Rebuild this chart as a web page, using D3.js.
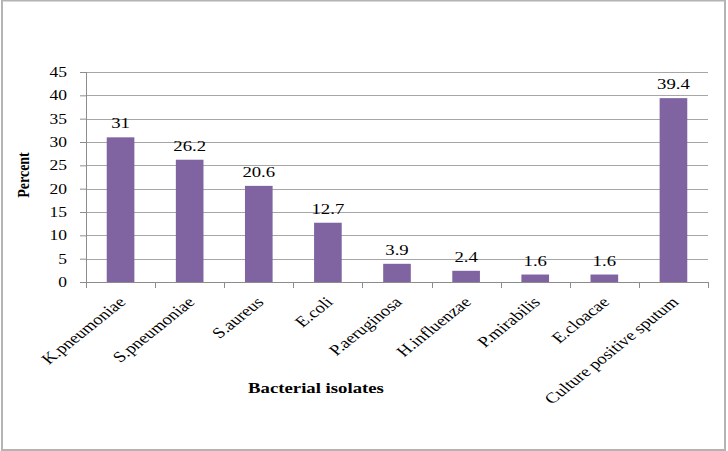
<!DOCTYPE html>
<html>
<head>
<meta charset="utf-8">
<script src="https://cdn.jsdelivr.net/npm/d3@7"></script>
<style>
  body { margin: 0; background: #fff; }
  svg text { font-family: "Liberation Serif", "DejaVu Serif", serif !important; fill: #000; }
</style>
</head>
<body>
<div id="chart"></div>
<script>
var categories = ["K.pneumoniae", "S.pneumoniae", "S.aureus", "E.coli", "P.aeruginosa",
                  "H.influenzae", "P.mirabilis", "E.cloacae", "Culture positive sputum"];
var percents = [31, 26.2, 20.6, 12.7, 3.9, 2.4, 1.6, 1.6, 39.4];
var yTicks = [0, 5, 10, 15, 20, 25, 30, 35, 40, 45];

var W = 728, H = 451;
var sx = 1.25;   // the picture is a bit wider than tall, text looks stretched
var margin = {top: 72, left: 86},
    width = 708 - margin.left,
    height = 282 - margin.top;

var root = d3.select("#chart").append("svg")
    .attr("width", W)
    .attr("height", H);

// outer frame
root.append("rect")
    .attr("x", 2).attr("y", 0.5)
    .attr("width", W - 5).attr("height", H - 1.5)
    .attr("fill", "none")
    .attr("stroke", "#b4b4b4")
    .attr("stroke-width", 2);

var svg = root.append("g")
    .attr("transform", "translate(" + margin.left + "," + margin.top + ")");

var x = d3.scaleBand()
    .domain(categories)
    .range([0, width])
    .paddingInner(0.6)
    .paddingOuter(0.3);

var y = d3.scaleLinear()
    .domain([0, 45])
    .range([height, 0]);

// gridlines
svg.append("g")
  .selectAll("line")
  .data(yTicks.slice(1))
  .enter()
  .append("line")
    .attr("x1", 0)
    .attr("x2", width)
    .attr("y1", function(d) { return Math.round(y(d)) + 0.5; })
    .attr("y2", function(d) { return Math.round(y(d)) + 0.5; })
    .attr("stroke", "#a6a6a6")
    .attr("stroke-width", 1);

// y axis
var yAxis = svg.append("g")
    .call(d3.axisLeft(y).tickValues(yTicks).tickSize(6).tickPadding(13));
yAxis.select(".domain").attr("stroke", "#8c8c8c").attr("d", "M0.5," + height + "V0");
yAxis.selectAll(".tick line").attr("stroke", "#8c8c8c");
yAxis.selectAll(".tick text")
    .style("font-size", "14px")
    .attr("transform", function() {
      var tx = +d3.select(this).attr("x");
      return "translate(" + tx + ",0) scale(" + sx + ",1) translate(" + (-tx) + ",0)";
    });

// bars
svg.selectAll("rect.bar")
  .data(percents)
  .enter()
  .append("rect")
    .attr("class", "bar")
    .attr("x", function(d, i) { return x(categories[i]); })
    .attr("y", function(d) { return y(d); })
    .attr("width", x.bandwidth())
    .attr("height", function(d) { return height - y(d); })
    .style("fill", "#8064a2");

// value labels
svg.selectAll("text.val")
  .data(percents)
  .enter()
  .append("text")
    .attr("class", "val")
    .attr("transform", function(d, i) {
      return "translate(" + (x(categories[i]) + x.bandwidth() / 2) + "," + (y(d) - 9) + ") scale(" + sx + ",1)";
    })
    .attr("text-anchor", "middle")
    .style("font-size", "15px")
    .text(function(d) { return d; });

// x axis
var step = x.step();
var x0 = x(categories[0]) - x.step() * x.paddingInner() / 2;
var xAxis = svg.append("g")
    .attr("transform", "translate(0," + height + ")");
xAxis.append("line")
    .attr("x1", 0).attr("x2", width)
    .attr("y1", 0.5).attr("y2", 0.5)
    .attr("stroke", "#8c8c8c");
xAxis.selectAll("line.tk")
  .data(d3.range(categories.length + 1))
  .enter()
  .append("line")
    .attr("class", "tk")
    .attr("x1", function(d) { return Math.round(x0 + d * step) + 0.5; })
    .attr("x2", function(d) { return Math.round(x0 + d * step) + 0.5; })
    .attr("y1", 0).attr("y2", 6)
    .attr("stroke", "#8c8c8c");

xAxis.selectAll("text.cat")
  .data(categories)
  .enter()
  .append("text")
    .attr("class", "cat")
    .attr("text-anchor", "end")
    .attr("transform", function(d) {
      return "translate(" + (x(d) + x.bandwidth() / 2 + 6) + ",21) scale(" + sx + ",1) rotate(-45)";
    })
    .style("font-size", "15px")
    .text(function(d) { return d; });

// axis titles
root.append("text")
    .attr("transform", "translate(29,175) scale(" + sx + ",1) rotate(-90)")
    .attr("text-anchor", "middle")
    .style("font-size", "14px")
    .style("font-weight", "bold")
    .text("Percent");

root.append("text")
    .attr("transform", "translate(316,393) scale(" + sx + ",1)")
    .attr("text-anchor", "middle")
    .style("font-size", "15px")
    .style("font-weight", "bold")
    .text("Bacterial isolates");
</script>
</body>
</html>
